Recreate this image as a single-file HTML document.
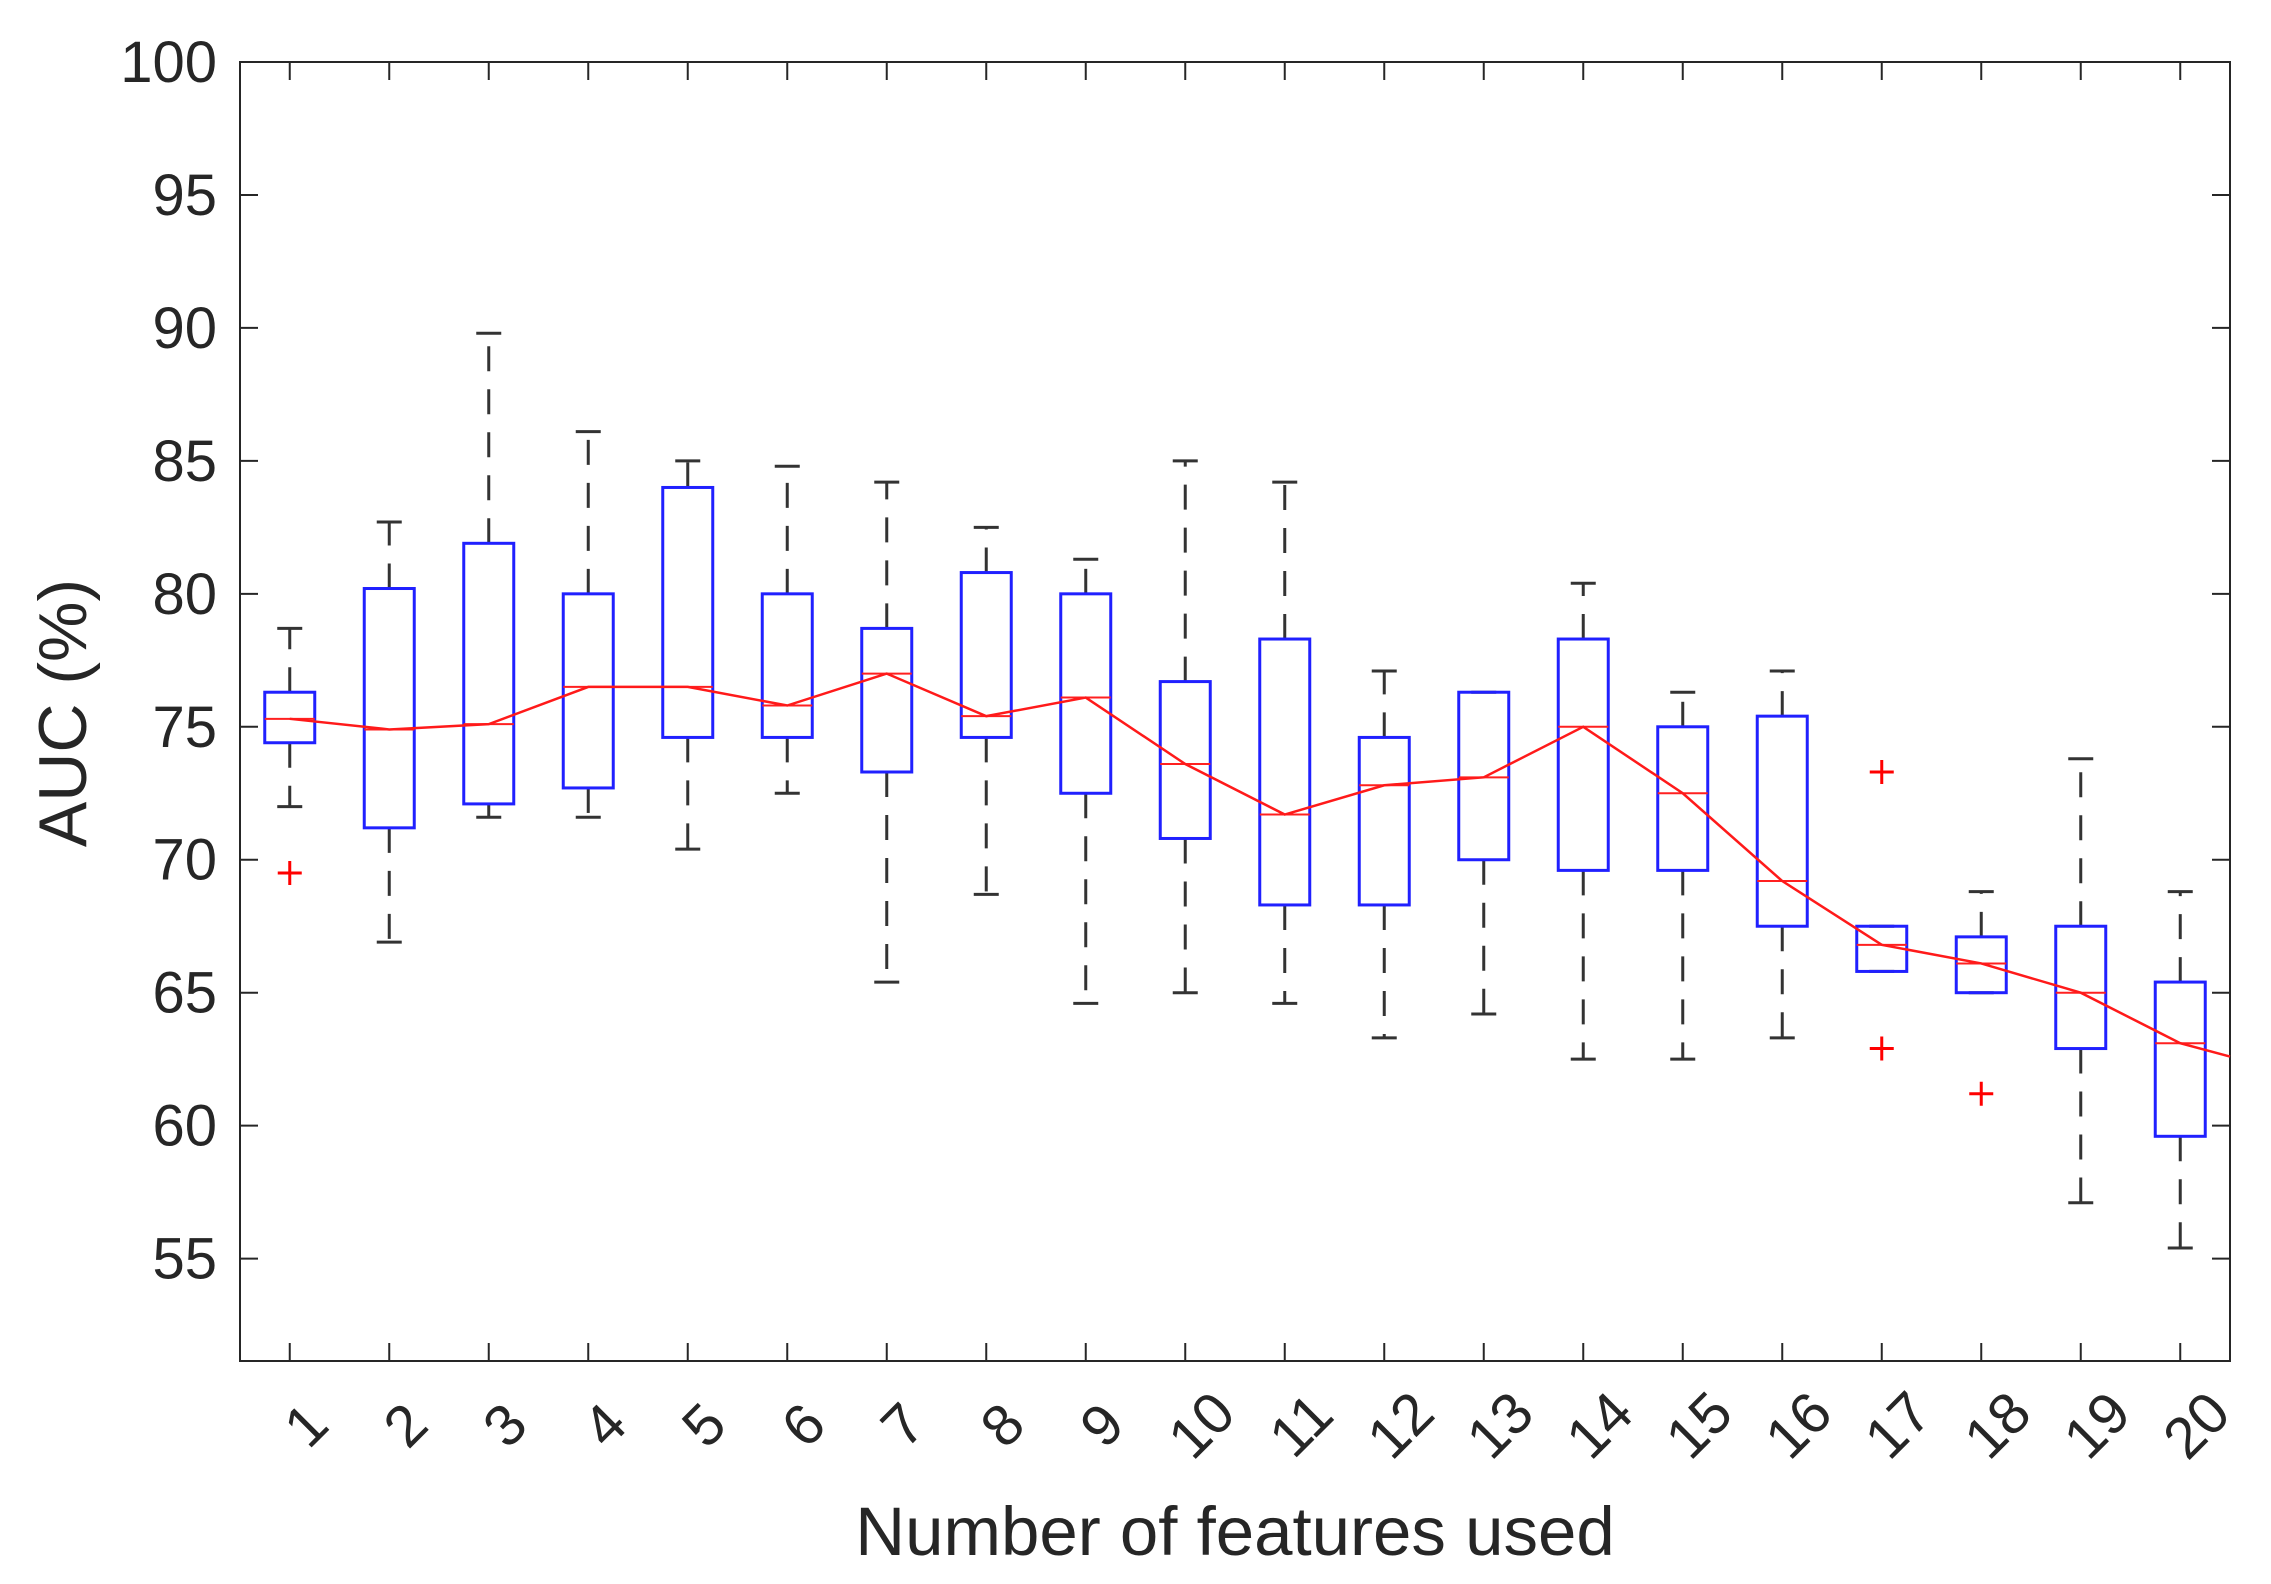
<!DOCTYPE html>
<html><head><meta charset="utf-8"><style>
html,body{margin:0;padding:0;background:#fff;}
svg{display:block;font-family:"Liberation Sans",Arial,sans-serif;}
</style></head><body>
<svg id="chart" width="2271" height="1584" viewBox="0 0 2271 1584" xmlns="http://www.w3.org/2000/svg">
<rect x="0" y="0" width="2271" height="1584" fill="#fff"/>
<g id="plot"></g>
</svg>
<script>
const categories = ["1","2","3","4","5","6","7","8","9","10","11","12","13","14","15","16","17","18","19","20"];
const whiskerLow  = [72.0,66.9,71.6,71.6,70.4,72.5,65.4,68.7,64.6,65.0,64.6,63.3,64.2,62.5,62.5,63.3,65.8,65.0,57.1,55.4];
const q1          = [74.4,71.2,72.1,72.7,74.6,74.6,73.3,74.6,72.5,70.8,68.3,68.3,70.0,69.6,69.6,67.5,65.8,65.0,62.9,59.6];
const medians     = [75.3,74.9,75.1,76.5,76.5,75.8,77.0,75.4,76.1,73.6,71.7,72.8,73.1,75.0,72.5,69.2,66.8,66.1,65.0,63.1];
const q3          = [76.3,80.2,81.9,80.0,84.0,80.0,78.7,80.8,80.0,76.7,78.3,74.6,76.3,78.3,75.0,75.4,67.5,67.1,67.5,65.4];
const whiskerHigh = [78.7,82.7,89.8,86.1,85.0,84.8,84.2,82.5,81.3,85.0,84.2,77.1,76.3,80.4,76.3,77.1,67.5,68.8,73.8,68.8];
const outliers    = [[1,69.5],[17,73.3],[17,62.9],[18,61.2]];
const lineTail    = [20.5,62.6];
const yTicks      = [55,60,65,70,75,80,85,90,95,100];

const NS="http://www.w3.org/2000/svg";
const L=240,R=2230,T=62,B=1361;
const xMin=0.5,xMax=20.5,yMin=51.15,yMax=100;
const xs=v=>L+(v-xMin)/(xMax-xMin)*(R-L);
const ys=v=>B-(v-yMin)/(yMax-yMin)*(B-T);
const g=document.getElementById('plot');
function mk(tag,attrs,parent){const e=document.createElementNS(NS,tag);for(const k in attrs)e.setAttribute(k,attrs[k]);(parent||g).appendChild(e);return e;}

const axbox=mk('rect',{x:L,y:T,width:R-L,height:B-T,fill:'none',stroke:'#262626','stroke-width':2});



yTicks.forEach(v=>{
  const y=ys(v);
  const t1=mk('line',{x1:L,y1:y,x2:L+18,y2:y,stroke:'#262626','stroke-width':2});
  
  
  const t2=mk('line',{x1:R,y1:y,x2:R-18,y2:y,stroke:'#262626','stroke-width':2});
  
  
  const tx=mk('text',{x:217,y:y+20,'text-anchor':'end','font-size':58,fill:'#262626'});
  tx.textContent=v;
  
  
});

categories.forEach((c,i)=>{
  const x=xs(i+1);
  const t1=mk('line',{x1:x,y1:B,x2:x,y2:B-18,stroke:'#262626','stroke-width':2});
  
  
  const t2=mk('line',{x1:x,y1:T,x2:x,y2:T+18,stroke:'#262626','stroke-width':2});
  
  
  const cx=x+16,cy=B+64;
  const tx=mk('text',{x:cx,y:cy+20,'text-anchor':'middle','font-size':58,fill:'#262626',transform:`rotate(-45 ${cx} ${cy})`});
  tx.textContent=c;
  
  
});

const bw=50,cw=25;
categories.forEach((c,i)=>{
  const x=xs(i+1);
  const grp=mk('g',{});
  
  
  if(whiskerHigh[i]>q3[i]){
    mk('line',{x1:x,y1:ys(q3[i]),x2:x,y2:ys(whiskerHigh[i]),stroke:'#333','stroke-width':3,'stroke-dasharray':'25 18'},grp);
  }
  if(whiskerLow[i]<q1[i]){
    mk('line',{x1:x,y1:ys(q1[i]),x2:x,y2:ys(whiskerLow[i]),stroke:'#333','stroke-width':3,'stroke-dasharray':'25 18'},grp);
  }
  mk('line',{x1:x-cw/2,y1:ys(whiskerHigh[i]),x2:x+cw/2,y2:ys(whiskerHigh[i]),stroke:'#333','stroke-width':3},grp);
  mk('line',{x1:x-cw/2,y1:ys(whiskerLow[i]),x2:x+cw/2,y2:ys(whiskerLow[i]),stroke:'#333','stroke-width':3},grp);
  mk('rect',{x:x-bw/2,y:ys(q3[i]),width:bw,height:ys(q1[i])-ys(q3[i]),fill:'none',stroke:'#2020ff','stroke-width':3},grp);
  mk('line',{x1:x-bw/2,y1:ys(medians[i]),x2:x+bw/2,y2:ys(medians[i]),stroke:'#ff2020','stroke-width':2},grp);
});

outliers.forEach(o=>{
  const x=xs(o[0]),y=ys(o[1]);
  const p=mk('path',{d:`M${x-12} ${y}H${x+12}M${x} ${y-12}V${y+12}`,stroke:'#ff0000','stroke-width':3,fill:'none'});
  
  
});

let pts=medians.map((m,i)=>xs(i+1)+','+ys(m));
pts.push(xs(lineTail[0])+','+ys(lineTail[1]));
const pl=mk('polyline',{points:pts.join(' '),fill:'none',stroke:'#ff1a1a','stroke-width':2.5});



const xt=mk('text',{x:(L+R)/2,y:1555,'text-anchor':'middle','font-size':69,fill:'#262626'});
xt.textContent='Number of features used';


const yt=mk('text',{x:0,y:0,'text-anchor':'middle','font-size':68,fill:'#262626',transform:'translate(86 713) rotate(-90)'});
yt.textContent='AUC (%)';


</script>
</body></html>
